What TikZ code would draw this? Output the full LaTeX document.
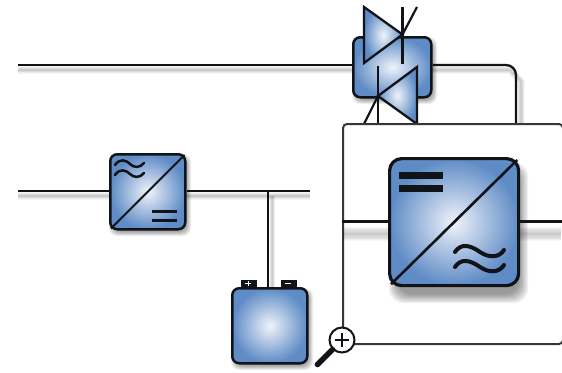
\documentclass[tikz,border=0pt]{standalone}
\usetikzlibrary{calc}
\definecolor{bluedeep}{HTML}{5F8CC6}
\definecolor{bluelight}{HTML}{F0F3FA}
\definecolor{inkdark}{HTML}{101418}
\tikzset{
  wire/.style={draw=inkdark,line width=2.3pt,line cap=butt},
  device/.style={draw=inkdark,line width=2.5pt,rectangle,rounded corners=7pt,inner sep=0pt,
    inner color=bluelight,outer color=bluedeep,anchor=north west},
  bigdevice/.style={device,line width=3.2pt,rounded corners=12pt},
  triode/.style={draw=inkdark,line width=2.3pt,line join=miter,inner color=bluelight,outer color=bluedeep},
  stroke/.style={draw=inkdark,line width=2.2pt},
  glyph/.style={draw=inkdark,line cap=round},
  lens/.style={circle,draw=inkdark,fill=white,line width=2pt,minimum size=25pt,inner sep=0pt},
  frame/.style={rectangle,draw=inkdark!85,fill=white,line width=2pt,rounded corners=4pt,inner sep=0pt,anchor=north west},
  term/.style={rectangle,draw=inkdark,fill=inkdark,line width=1.6pt,inner sep=0pt,anchor=north west}
}
% soft shadow of a rectangle (x1,y1,x2,y2,radius,spread)
\newcommand{\softbox}[6]{%
  \foreach \g in {1,...,8}{%
    \fill[black,opacity=0.06,rounded corners=#5]
      ({#1+#6*(1-\g/4)},{#2+#6*(1-\g/4)}) rectangle ({#3-#6*(1-\g/4)},{#4-#6*(1-\g/4)});
  }}
% soft shadow of a line
\newcommand{\softwire}[2]{%
  \foreach \g in {1,...,6}{%
    \draw[black,opacity=0.035,line width={\g*#2 pt},line join=round] #1;
  }}
\begin{document}
\begin{tikzpicture}[x=1pt,y=-1pt]
\useasboundingbox (0,0) rectangle (562,372);
\fill[white] (0,0) rectangle (562,372);
% shadows of base scene
\softwire{(18,70) -- (352,70)}{1.2}
\softwire{(430,70) -- (510,70) -- (521,81) -- (521,125)}{1.2}
\softwire{(18,196) -- (310,196)}{1.2}
\softwire{(272,196) -- (272,287)}{1}
\softbox{355}{40}{434}{101}{8pt}{3}
\softbox{112}{157}{188}{233}{8pt}{3}
\softbox{234}{291}{310}{367}{8pt}{3}
% coordinates
\coordinate (west1) at (18,65);
\coordinate (west2) at (18,191);
\coordinate (bus2) at (310,191);
\coordinate (tap) at (268,191);
\coordinate (drop) at (516,125);
% top device
\node[device,minimum width=78pt,minimum height=60pt] (tcbox) at (352,36) {};
\draw[wire] (west1) -- (tcbox.west |- west1);
\draw[wire,rounded corners=10pt] (tcbox.east |- west1) -- (drop |- west1) -- (drop);
% thyristors
\draw[triode] (364,7) -- (402.5,34.5) -- (364,63) -- cycle;
\draw[stroke] (402.5,7) -- (402.5,64);
\draw[stroke] (417,7) -- (402.5,34.5);
\draw[triode] (417,67) -- (378,96) -- (417,124) -- cycle;
\draw[stroke] (378,66) -- (378,124);
\draw[stroke] (378,96) -- (364,124);
% left converter
\node[device,minimum width=75pt,minimum height=75pt] (acdc) at (109,153) {};
\draw[wire] (west2) -- (acdc.west |- west2);
\draw[wire] (acdc.east |- west2) -- (bus2);
\draw[stroke,line width=2pt] (acdc.north east) ++(-2,2) -- ($(acdc.south west)+(2,-2)$);
\draw[glyph,line width=2.5pt] (115,165) .. controls (120,158) and (126,160) .. (130,164) .. controls (134,168) and (140,168) .. (144,163);
\draw[glyph,line width=2.5pt] (115,175) .. controls (120,168) and (126,170) .. (130,174) .. controls (134,178) and (140,178) .. (144,173);
\draw[inkdark,line width=3pt] (152,211) -- (177,211);
\draw[inkdark,line width=3pt] (152,220) -- (177,220);
% battery
\node[term,minimum width=15pt,minimum height=8pt] (tplus) at (240.5,279.5) {};
\node[term,minimum width=15pt,minimum height=8pt] (tminus) at (280.5,279.5) {};
\node[device,minimum width=75pt,minimum height=75pt] (batt) at (231,287) {};
\draw[wire] (tap) -- (batt.north -| tap);
\draw[white,line width=1pt] (245,283) -- (251,283) (248,280.5) -- (248,285.5);
\draw[white,line width=1pt] (285,283) -- (291,283);
% zoom frame
\node[frame,minimum width=220pt,minimum height=220pt] (zoomframe) at (342,123) {};
\begin{scope}
\clip (343,124) rectangle (561,342);
\softwire{(343,234) -- (390,234)}{2.4}
\softwire{(515,234) -- (561,234)}{2.4}
\softbox{394}{167}{523}{298}{14pt}{5}
\end{scope}
\node[bigdevice,minimum width=129pt,minimum height=127pt] (dcac) at (388,157) {};
\coordinate (zw) at (zoomframe.west |- 0,221);
\coordinate (ze) at (zoomframe.east |- 0,221);
\draw[wire,line width=3pt] (zw) -- (dcac.west |- zw);
\draw[wire,line width=3pt] (dcac.east |- ze) -- (ze);
\draw[stroke,line width=2.6pt] ($(dcac.north east)+(-3,3)$) -- ($(dcac.south west)+(3,-3)$);
\fill[inkdark] (399,172) rectangle (443,179);
\fill[inkdark] (399,185) rectangle (443,192);
\draw[glyph,line width=4pt] (455,252) .. controls (461,243) and (470,245) .. (480,252) .. controls (489,258) and (499,258) .. (504,250);
\draw[glyph,line width=4pt] (455,267) .. controls (461,258) and (470,260) .. (480,267) .. controls (489,273) and (499,273) .. (504,265);
% magnifier
\node[lens] (loupe) at (342,340) {};
\draw[inkdark,line width=5.5pt,line cap=round] (loupe.225) -- ++(-15,15);
\draw[inkdark,line width=2.4pt] (335,340) -- (349,340) (342,333) -- (342,347);
\end{tikzpicture}
\end{document}
